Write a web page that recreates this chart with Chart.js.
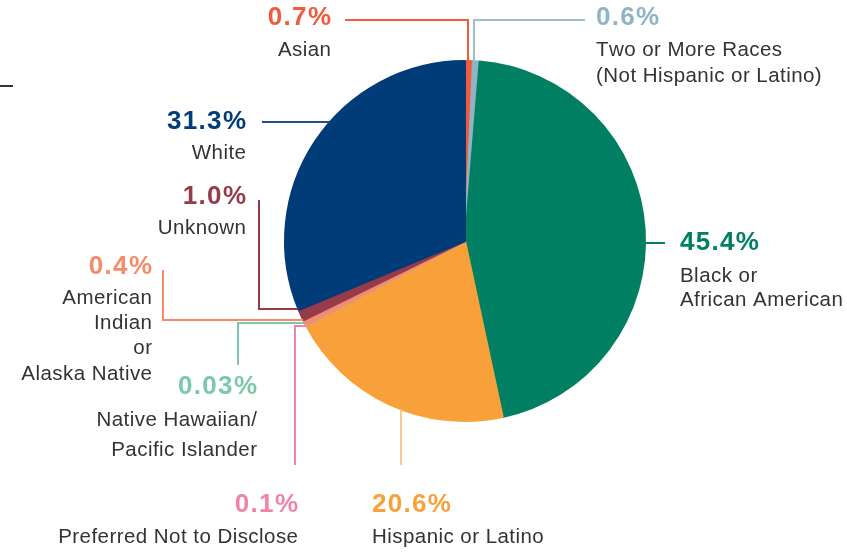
<!DOCTYPE html>
<html>
<head>
<meta charset="utf-8">
<script src="https://cdn.jsdelivr.net/npm/chart.js@4/dist/chart.umd.min.js"></script>
<style>
	html, body { margin: 0; padding: 0; background: #fff; }
	#wrap { position: relative; width: 847px; height: 552px; }
</style>
</head>
<body>
<div id="wrap"><canvas id="chart"></canvas></div>
<script>

// Slices, clockwise from 12 o'clock.
const categories = [
	"Asian",
	"Two or More Races (Not Hispanic or Latino)",
	"Black or African American",
	"Hispanic or Latino",
	"Preferred Not to Disclose",
	"Native Hawaiian/Pacific Islander",
	"American Indian or Alaska Native",
	"Unknown",
	"White"
];
const shares = [ 0.7, 0.6, 45.4, 20.6, 0.1, 0.03, 0.4, 1.0, 31.3 ];
const shareLabels = [ "0.7%", "0.6%", "45.4%", "20.6%", "0.1%", "0.03%", "0.4%", "1.0%", "31.3%" ];
const nameLines = [
	[ "Asian" ],
	[ "Two or More Races", "(Not Hispanic or Latino)" ],
	[ "Black or", "African American" ],
	[ "Hispanic or Latino" ],
	[ "Preferred Not to Disclose" ],
	[ "Native Hawaiian/", "Pacific Islander" ],
	[ "American", "Indian", "or", "Alaska Native" ],
	[ "Unknown" ],
	[ "White" ]
];

// Styles
const sliceColors = [ "#f15a3a", "#8fb4c5", "#007f63", "#f8a13a", "#f183aa", "#7dc8a8", "#f58b6b", "#973a4a", "#003c78" ];
const lineColors  = [ "#f15a3a", "#9dbdcc", "#007f63", "#f9c88f", "#f183aa", "#7dc8a8", "#f58b6b", "#973a4a", "#1f4f86" ];

/*
 * Label layout: text anchor, alignment, line positions,
 * and the leader path that ends on the pie edge.
 */
const labelLayout = [
	{ x: 331, align: "right", ys: [ 18, 50 ], path: [ [345, 20], [468, 20] ], end: "v" },
	{ x: 596, align: "left", ys: [ 18, 50, 76 ], path: [ [585, 20], [474, 20] ], end: "v" },
	{ x: 680, align: "left", ys: [ 243, 276, 300 ], path: [ [665, 243] ], end: "h" },
	{ x: 372, align: "left", ys: [ 505, 537 ], path: [ [401, 465] ], end: "v" },
	{ x: 298, align: "right", ys: [ 505, 537 ], path: [ [295, 465], [295, 326] ], end: "h" },
	{ x: 257, align: "right", ys: [ 387, 420, 450 ], path: [ [238, 365], [238, 323] ], end: "h" },
	{ x: 152, align: "right", ys: [ 267, 298, 323, 348, 374 ], path: [ [163, 270], [163, 320] ], end: "h" },
	{ x: 246, align: "right", ys: [ 197, 228 ], path: [ [259, 200], [259, 309] ], end: "h" },
	{ x: 246, align: "right", ys: [ 122, 153 ], path: [ [262, 122] ], end: "h" }
];

// Draw text with letter spacing, respecting alignment.
function spacedText( ctx, text, x, y, spacing )
{
	const w = ctx.measureText( text ).width + spacing * ( text.length - 1 );
	const align = ctx.textAlign;
	let cur = align === "right" ? x - w : x;
	ctx.textAlign = "left";
	for( const ch of text )
	{
		ctx.fillText( ch, cur, y );
		cur += ctx.measureText( ch ).width + spacing;
	}
	ctx.textAlign = align;
}

const leaderLabels = {
	id: "leaderLabels",
	afterDraw: function( chart )
	{
		const ctx = chart.ctx;
		const arcs = chart.getDatasetMeta( 0 ).data;
		ctx.save();

		// Stray rule at top left of the page.
		ctx.strokeStyle = "#333";
		ctx.lineWidth = 2;
		ctx.beginPath();
		ctx.moveTo( 0, 86 );
		ctx.lineTo( 13, 86 );
		ctx.stroke();

		arcs.forEach( ( arc, i ) =>
		{
			const lay = labelLayout[i];
			const cx = arc.x, cy = arc.y, r = arc.outerRadius;
			const last = lay.path[lay.path.length - 1];
			let endPt;
			if( lay.end === "v" )
			{
				const d = Math.sqrt( Math.max( 0, r * r - ( last[0] - cx ) ** 2 ) );
				endPt = [ last[0], last[1] < cy ? cy - d : cy + d ];
			}
			else {
				const d = Math.sqrt( Math.max( 0, r * r - ( last[1] - cy ) ** 2 ) );
				endPt = [ last[0] < cx ? cx - d : cx + d, last[1] ];
			}

			// Leader line
			ctx.strokeStyle = lineColors[i];
			ctx.lineWidth = 2;
			ctx.lineJoin = "miter";
			ctx.beginPath();
			ctx.moveTo( lay.path[0][0], lay.path[0][1] );
			lay.path.slice( 1 ).forEach( p => ctx.lineTo( p[0], p[1] ) );
			ctx.lineTo( endPt[0], endPt[1] );
			ctx.stroke();

			// Texts
			ctx.textAlign = lay.align;
			ctx.textBaseline = "middle";
			ctx.fillStyle = sliceColors[i];
			ctx.font = "bold 26px 'Liberation Sans', Arial, sans-serif";
			spacedText( ctx, shareLabels[i], lay.x, lay.ys[0], 1.3 );
			ctx.fillStyle = "#333333";
			ctx.font = "20.5px 'Liberation Sans', Arial, sans-serif";
			nameLines[i].forEach( ( t, k ) => spacedText( ctx, t, lay.x, lay.ys[k + 1], 0.45 ) );
		});
		ctx.restore();
	}
};

new Chart( document.getElementById( "chart" ), {
	type: "pie",
	data: {
		labels: categories,
		datasets: [{
			data: shares,
			backgroundColor: sliceColors,
			borderColor: sliceColors,
			borderWidth: 2
		}]
	},
	options: {
		responsive: true,
		maintainAspectRatio: false,
		animation: false,
		layout: {
			padding: { left: 284, right: 201, top: 60, bottom: 130 }
		},
		plugins: {
			legend: { display: false },
			title: { display: false },
			tooltip: { enabled: false }
		}
	},
	plugins: [ leaderLabels ]
});
</script>
</body>
</html>
